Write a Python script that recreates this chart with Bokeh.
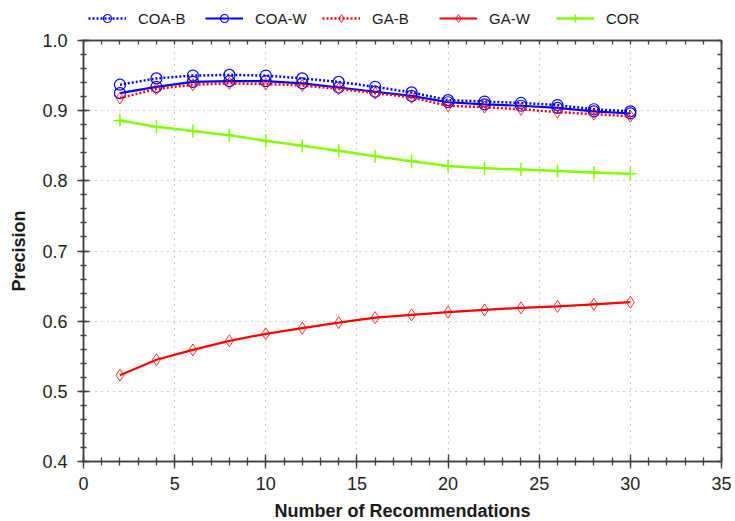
from bokeh.plotting import figure
from bokeh.models import (Range1d, LinearAxis, Legend, LegendItem, SingleIntervalTicker,
                          NumeralTickFormatter, FixedTicker)
from bokeh.layouts import column
from bokeh.embed import file_html
from bokeh.resources import INLINE

# ---- data ----
n_rec = [2, 4, 6, 8, 10, 12, 14, 16, 18, 20, 22, 24, 26, 28, 30]
coa_b = [0.937, 0.946, 0.950, 0.951, 0.950, 0.946, 0.941, 0.934, 0.926, 0.915, 0.913, 0.911, 0.908, 0.902, 0.899]
coa_w = [0.925, 0.934, 0.941, 0.942, 0.942, 0.939, 0.933, 0.927, 0.921, 0.912, 0.909, 0.907, 0.904, 0.899, 0.896]
ga_b = [0.918, 0.931, 0.937, 0.939, 0.938, 0.936, 0.931, 0.925, 0.919, 0.907, 0.905, 0.902, 0.898, 0.895, 0.892]
ga_w = [0.523, 0.545, 0.559, 0.572, 0.582, 0.590, 0.598, 0.605, 0.609, 0.613, 0.616, 0.619, 0.621, 0.624, 0.627]
cor = [0.886, 0.877, 0.871, 0.865, 0.857, 0.850, 0.843, 0.835, 0.828, 0.821, 0.818, 0.816, 0.814, 0.812, 0.810]
series_names = ["COA-B", "COA-W", "GA-B", "GA-W", "COR"]

FONT = "Liberation Sans"
AX = "#404040"
BLUE = "#0000ff"
RED = "#ff0000"
GREEN = "#80ff00"

X0, X1 = 0, 35
Y0, Y1 = 0.4, 1.0

p = figure(
    frame_width=638, frame_height=421,
    x_range=Range1d(X0, X1), y_range=Range1d(Y0, Y1),
    output_backend="svg", toolbar_location=None,
    min_border_left=83, min_border_right=14, min_border_top=12, min_border_bottom=60,
    x_axis_label="Number of Recommendations", y_axis_label="Precision",
)
p.background_fill_color = "white"
p.border_fill_color = "white"
p.outline_line_color = AX
p.outline_line_width = 1.5

xt = SingleIntervalTicker(interval=5, num_minor_ticks=5)
yt = SingleIntervalTicker(interval=0.1, num_minor_ticks=5)
p.xaxis.ticker = xt
p.yaxis.ticker = yt
p.yaxis.formatter = NumeralTickFormatter(format="0.0")

for ax in (p.xaxis[0], p.yaxis[0]):
    ax.axis_line_color = AX
    ax.axis_line_width = 1.5
    ax.major_tick_line_color = AX
    ax.minor_tick_line_color = AX
    ax.major_tick_line_width = 1.3
    ax.minor_tick_line_width = 1.3
    ax.major_label_text_font = FONT
    ax.major_label_text_font_size = "18px"
    ax.major_label_text_color = "#222222"
    ax.axis_label_text_font = FONT
    ax.axis_label_text_font_size = "18px"
    ax.axis_label_text_font_style = "bold"
    ax.axis_label_text_color = "#1a1a1a"

p.xaxis.major_tick_out = 7
p.xaxis.major_tick_in = 7
p.xaxis.minor_tick_out = 4
p.xaxis.minor_tick_in = 4
p.xaxis.major_label_standoff = 8
p.xaxis.axis_label_standoff = 8

p.yaxis.major_tick_out = 6
p.yaxis.major_tick_in = 6
p.yaxis.minor_tick_out = 3
p.yaxis.minor_tick_in = 3
p.yaxis.major_label_standoff = 10
p.yaxis.axis_label_standoff = 10

# top & right frame edges: inward ticks only (minor ticks, so no labels)
top_minor = [X0 + i for i in range(int(X1 - X0) + 1)]
right_minor = [round(Y0 + 0.02 * i, 2) for i in range(int(round((Y1 - Y0) / 0.02)) + 1)]
for loc, mt in (("above", top_minor), ("right", right_minor)):
    a = LinearAxis(ticker=FixedTicker(ticks=[], minor_ticks=mt))
    a.axis_line_color = AX
    a.axis_line_width = 1.5
    a.major_tick_out = 0
    a.minor_tick_out = 0
    a.minor_tick_in = 4
    a.minor_tick_line_color = AX
    a.minor_tick_line_width = 1.3
    a.major_label_standoff = 0
    p.add_layout(a, loc)

p.xgrid.grid_line_color = "#9a9a9a"
p.ygrid.grid_line_color = "#9a9a9a"
p.xgrid.grid_line_dash = "1 5"
p.ygrid.grid_line_dash = "1 5"
p.xgrid.grid_line_width = 1.2
p.ygrid.grid_line_width = 1.2

styles = [
    dict(color=BLUE, dash="2 2", lw=2.5, marker="circle", size=11, mlw=1.2, malpha=1.0),
    dict(color=BLUE, dash="solid", lw=2.2, marker="circle", size=11, mlw=1.2, malpha=1.0),
    dict(color=RED, dash="2 2", lw=2.5, marker="diamond", size=12, mlw=1.0, malpha=0.8),
    dict(color=RED, dash="solid", lw=2.2, marker="diamond", size=12, mlw=1.0, malpha=0.8),
    dict(color=GREEN, dash="solid", lw=2.5, marker="cross", size=13, mlw=1.5, malpha=1.0),
]
all_series = [coa_b, coa_w, ga_b, ga_w, cor]

for ys, st in zip(all_series, styles):
    p.line(n_rec, ys, line_color=st["color"], line_width=st["lw"], line_dash=st["dash"])
    p.scatter(n_rec, ys, marker=st["marker"], size=st["size"], line_color=st["color"],
              line_width=st["mlw"], fill_alpha=0, line_alpha=st["malpha"])

# ---- legend strip above the plot (its own renderers lie outside its view range) ----
lf = figure(
    width=735, height=28, x_range=Range1d(0, 1), y_range=Range1d(0, 0.1),
    output_backend="svg", toolbar_location=None,
    min_border_left=0, min_border_right=0, min_border_top=0, min_border_bottom=0,
)
lf.axis.visible = False
lf.grid.visible = False
lf.outline_line_color = None
lf.background_fill_color = "white"
lf.border_fill_color = "white"

items = []
for name, ys, st in zip(series_names, all_series, styles):
    lr = lf.line(n_rec, ys, line_color=st["color"], line_width=st["lw"], line_dash=st["dash"])
    mr = lf.scatter(n_rec, ys, marker=st["marker"], size=st["size"], line_color=st["color"],
                    line_width=st["mlw"], fill_alpha=0, line_alpha=st["malpha"])
    items.append(LegendItem(label=name, renderers=[lr, mr]))

legend = Legend(
    items=items, orientation="horizontal", location=(5, 0),
    glyph_width=38, glyph_height=20, label_height=20, label_width=62,
    label_standoff=12, spacing=5, padding=0, margin=0,
    label_text_font=FONT, label_text_font_size="15px", label_text_color="#1a1a1a",
    border_line_alpha=0, background_fill_alpha=0,
)
lf.add_layout(legend)

layout = column(lf, p, spacing=0)
open("out.html", "w").write(file_html(layout, INLINE))
